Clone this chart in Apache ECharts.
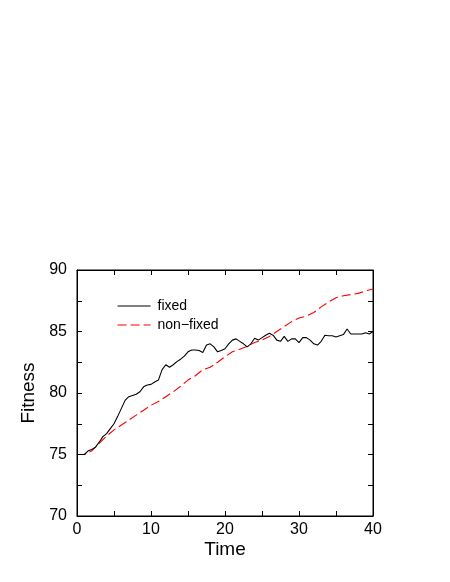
<!DOCTYPE html>
<html>
<head>
<meta charset="utf-8">
<script src="https://cdn.jsdelivr.net/npm/echarts@6/dist/echarts.min.js"></script>
<style>
  html, body { margin: 0; padding: 0; background: #fff; }
  #chart { width: 450px; height: 582px; }
</style>
</head>
<body>
<div id="chart"></div>
<script>
const fixedTime = [0, 0.5, 1, 1.5, 2, 2.5, 3, 3.5, 4, 4.5, 5, 5.5, 6, 6.5, 7, 7.5, 8, 8.5, 9, 9.5,
  10, 10.5, 11, 11.5, 12, 12.5, 13, 13.5, 14, 14.5, 15, 15.5, 16, 16.5, 17, 17.5, 18, 18.5, 19, 19.5,
  20, 20.5, 21, 21.5, 22, 22.5, 23, 23.5, 24, 24.5, 25, 25.5, 26, 26.5, 27, 27.5, 28, 28.5, 29, 29.5,
  30, 30.5, 31, 31.5, 32, 32.5, 33, 33.5, 34, 34.5, 35, 35.5, 36, 36.5, 37, 37.5, 38, 38.5, 39, 39.5, 40]
const fixedValues = [75.0, 75.0, 75.0, 75.3, 75.4, 75.6, 76.0, 76.45, 76.7, 77.1, 77.5, 78.1, 78.75, 79.4, 79.7, 79.8, 79.9, 80.1, 80.5, 80.65,
  80.7, 80.9, 81.05, 81.9, 82.3, 82.1, 82.3, 82.55, 82.75, 83.0, 83.35, 83.5, 83.5, 83.45, 83.3, 83.9, 84.0, 83.75, 83.35, 83.45,
  83.6, 84.0, 84.3, 84.4, 84.2, 84.0, 83.75, 84.0, 84.45, 84.3, 84.5, 84.7, 84.85, 84.7, 84.3, 84.2, 84.6, 84.2, 84.4, 84.4,
  84.1, 84.5, 84.5, 84.3, 84.0, 83.9, 84.2, 84.7, 84.65, 84.65, 84.55, 84.65, 84.75, 85.2, 84.8, 84.8, 84.8, 84.8, 84.9, 84.8, 85.0]

const nonFixedTime = [0, 1, 2, 3, 4, 5, 6, 7, 8, 9, 10, 11, 12, 13, 14, 15, 16, 17, 18, 19,
  20, 21, 22, 23, 24, 25, 26, 27, 28, 29, 30, 31, 32, 33, 34, 35, 36, 37, 38, 39, 40]
const nonFixedValues = [75.0, 75.0, 75.3, 75.9, 76.5, 77.0, 77.4, 77.8, 78.2, 78.6, 79.0, 79.3, 79.7, 80.1, 80.55, 81.05, 81.4, 81.9, 82.1, 82.5,
  82.95, 83.35, 83.55, 83.8, 84.1, 84.3, 84.6, 85.0, 85.4, 85.8, 86.1, 86.25, 86.55, 87.0, 87.4, 87.75, 87.9, 88.0, 88.1, 88.3, 88.45]

const seriesNames = ['fixed', 'non\u2212fixed']
const xLabelStep = 10
const yLabelStep = 5

const font = 'Liberation Sans, Arial, sans-serif'

// ticks every half label step, labels only on full steps
const everyOther = (step) => (v) => (Math.abs(v / step - Math.round(v / step)) < 1e-6 ? String(v) : '')

const axisBase = (extra) => Object.assign({
  type: 'value',
  gridIndex: 0,
  axisLine: { show: true, onZero: false, lineStyle: { color: '#000', width: 1 } },
  axisTick: { show: true, inside: true, length: 5, lineStyle: { color: '#000', width: 1 } },
  splitLine: { show: false }
}, extra)

const option = {
  animation: false,
  grid: { left: 77, right: 77, top: 270, bottom: 66, show: true, borderColor: '#000', borderWidth: 1, backgroundColor: 'transparent' },
  legend: {
    show: true,
    orient: 'vertical',
    left: 112,
    top: 294,
    itemWidth: 33,
    itemHeight: 12,
    itemGap: 5,
    itemStyle: { opacity: 0 },
    lineStyle: { width: 1.1 },
    textStyle: { fontFamily: font, fontSize: 14, color: '#000', padding: [0, 0, 0, 2] },
    data: seriesNames
  },
  xAxis: [
    axisBase({
      min: 0, max: 40, interval: xLabelStep / 2, position: 'bottom',
      name: 'Time', nameLocation: 'middle', nameGap: 24,
      nameTextStyle: { fontFamily: font, fontSize: 19, color: '#000' },
      axisLabel: { fontFamily: font, fontSize: 16, color: '#000', margin: 6, formatter: everyOther(xLabelStep) }
    }),
    axisBase({
      min: 0, max: 40, interval: xLabelStep / 2, position: 'top',
      axisLabel: { show: false }
    })
  ],
  yAxis: [
    axisBase({
      min: 70, max: 90, interval: yLabelStep / 2, position: 'left',
      name: 'Fitness', nameLocation: 'middle', nameGap: 35,
      nameTextStyle: { fontFamily: font, fontSize: 19, color: '#000' },
      axisLabel: { fontFamily: font, fontSize: 16, color: '#000', margin: 10, formatter: everyOther(yLabelStep) }
    }),
    axisBase({
      min: 70, max: 90, interval: yLabelStep / 2, position: 'right',
      axisLabel: { show: false }
    })
  ],
  series: [
    {
      name: seriesNames[0],
      type: 'line',
      xAxisIndex: 0,
      yAxisIndex: 0,
      showSymbol: false,
      symbol: 'none',
      data: fixedTime.map((t, i) => [t, fixedValues[i]]),
      lineStyle: { color: '#000', width: 1.1 },
      itemStyle: { color: '#000' },
      z: 3
    },
    {
      name: seriesNames[1],
      type: 'line',
      xAxisIndex: 0,
      yAxisIndex: 0,
      showSymbol: false,
      symbol: 'none',
      data: nonFixedTime.map((t, i) => [t, nonFixedValues[i]]),
      lineStyle: { color: '#ff0000', width: 1.1, type: [9, 4] },
      itemStyle: { color: '#ff0000' },
      z: 2
    }
  ]
}

const chart = echarts.init(document.getElementById('chart'))
chart.setOption(option)
</script>
</body>
</html>
